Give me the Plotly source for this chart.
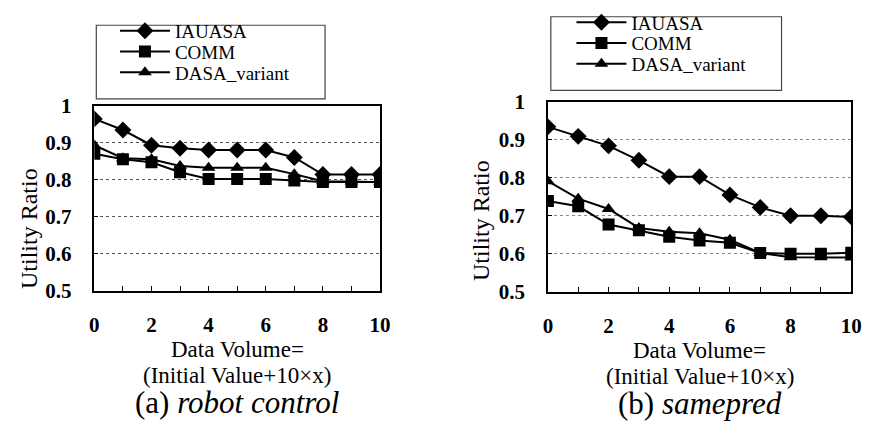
import plotly.graph_objects as go

W, H = 875, 438

x_vals = list(range(11))
x_tick_labels = ["0", "", "2", "", "4", "", "6", "", "8", "", "10"]
y_tick_vals = [0.5, 0.6, 0.7, 0.8, 0.9, 1.0]
y_tick_labels = ["0.5", "0.6", "0.7", "0.8", "0.9", "1"]

series_names = ["IAUASA", "COMM", "DASA_variant"]
series_symbols = ["diamond", "square", "triangle-up"]

# (a) robot control
robot_iauasa = [0.964, 0.934, 0.893, 0.885, 0.880, 0.880, 0.880, 0.860, 0.814, 0.814, 0.814]
robot_comm = [0.870, 0.855, 0.847, 0.820, 0.802, 0.802, 0.802, 0.798, 0.794, 0.794, 0.794]
robot_dasa = [0.893, 0.858, 0.855, 0.837, 0.832, 0.832, 0.832, 0.815, 0.796, 0.795, 0.793]

# (b) samepred
same_iauasa = [0.934, 0.909, 0.884, 0.846, 0.803, 0.803, 0.755, 0.722, 0.700, 0.700, 0.697]
same_comm = [0.739, 0.725, 0.677, 0.662, 0.645, 0.635, 0.629, 0.602, 0.600, 0.600, 0.603]
same_dasa = [0.791, 0.745, 0.718, 0.668, 0.658, 0.654, 0.637, 0.602, 0.591, 0.591, 0.590]

FONT = "'Liberation Serif', 'Times New Roman', Times, serif"

def px_x(p):
    return p / W

def px_y(p):
    return 1 - p / H

fig = go.Figure()

panels = [
    dict(data=[robot_iauasa, robot_comm, robot_dasa], xa="x", ya="y",
         xl=91, xr=382, yt=99, yb=295,
         box=(93, 14, 326, 92), rows=[29, 51, 73], text_x=175,
         caption="(a) <i>robot control</i>", ylab=(25, 229)),
    dict(data=[same_iauasa, same_comm, same_dasa], xa="x2", ya="y2",
         xl=553, xr=862, yt=95, yb=296,
         box=(556, 5, 791, 83), rows=[20, 42, 64], text_x=640,
         caption="(b) <i>samepred</i>", ylab=(485, 221)),
]

layout = dict(
    width=W, height=H, margin=dict(l=0, r=0, t=0, b=0),
    paper_bgcolor="white", plot_bgcolor="white",
    font=dict(family=FONT, color="black"),
)

legend_idx = 1
for p in panels:
    for name, sym, ys, row in zip(series_names, series_symbols, p["data"], p["rows"]):
        legend_idx += 1
        lid = "legend%d" % legend_idx
        fig.add_trace(go.Scatter(
            x=x_vals, y=ys, name=name, mode="lines+markers",
            xaxis=p["xa"], yaxis=p["ya"], legend=lid,
            line=dict(color="black", width=2),
            marker=dict(symbol=sym, size=12 if sym != "diamond" else 13, color="black"),
        ))
        layout[lid] = dict(
            x=px_x(p["text_x"] - 63), y=px_y(row - 9), xanchor="left", yanchor="middle",
            bgcolor="rgba(0,0,0,0)", borderwidth=0, itemwidth=50, tracegroupgap=0,
            font=dict(family=FONT, size=19, color="black"),
        )

axis_common_x = dict(
    range=[0, 10], tickvals=x_vals, ticktext=x_tick_labels, ticks="inside", ticklen=5,
    tickcolor="black", showline=True, mirror=True, linecolor="black", linewidth=1.5,
    showgrid=False, zeroline=False, ticklabelstandoff=14,
    tickfont=dict(family=FONT, size=21, color="black", weight="bold"),
)
axis_common_y = dict(
    range=[0.5, 1.0], tickvals=y_tick_vals, ticktext=y_tick_labels, ticks="inside", ticklen=4,
    tickcolor="black", showline=True, mirror=True, linecolor="black", linewidth=1.5,
    showgrid=True, griddash="dot", gridwidth=1, zeroline=False,
    ticklabelstandoff=17,
    tickfont=dict(family=FONT, size=21, color="black", weight="bold"),
)
grid_colors = ["#555555", "#888888"]

shapes = []
annotations = []

for i, p in enumerate(panels):
    sfx = "" if i == 0 else "2"
    layout["xaxis" + sfx] = dict(axis_common_x, domain=[px_x(p["xl"]), px_x(p["xr"])],
                                 anchor="y" + sfx)
    layout["yaxis" + sfx] = dict(axis_common_y, domain=[px_y(p["yb"]), px_y(p["yt"])],
                                 anchor="x" + sfx, gridcolor=grid_colors[i])
    bx0, by0, bx1, by1 = p["box"]
    shapes.append(dict(type="rect", xref="paper", yref="paper",
                       x0=px_x(bx0), x1=px_x(bx1), y0=px_y(by1), y1=px_y(by0),
                       line=dict(color="#444444", width=1.2), fillcolor="rgba(0,0,0,0)"))
    cx = (p["xl"] + p["xr"]) / 2
    annotations += [
        dict(text="Data Volume=", x=px_x(cx), y=px_y(357 + i), xref="paper", yref="paper",
             showarrow=False, font=dict(family=FONT, size=23), xanchor="center", yanchor="middle"),
        dict(text="(Initial Value+10\u00d7x)", x=px_x(cx), y=px_y(385 + i), xref="paper", yref="paper",
             showarrow=False, font=dict(family=FONT, size=23), xanchor="center", yanchor="middle"),
        dict(text=p["caption"], x=px_x(cx), y=px_y(413 + i), xref="paper", yref="paper",
             showarrow=False, font=dict(family=FONT, size=31), xanchor="center", yanchor="middle"),
        dict(text="Utility Ratio", x=px_x(p["ylab"][0]), y=px_y(p["ylab"][1]),
             xref="paper", yref="paper", showarrow=False, textangle=-90,
             font=dict(family=FONT, size=24), xanchor="center", yanchor="middle"),
    ]

layout["shapes"] = shapes
layout["annotations"] = annotations
fig.update_layout(**layout)
fig.write_html("out.html")
